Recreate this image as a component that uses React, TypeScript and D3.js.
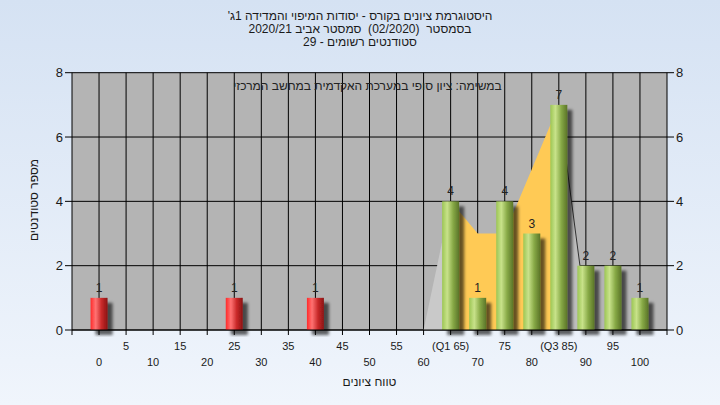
import React from 'react';
import * as d3 from 'd3';

const W = 720;
const H = 405;

const categories = ['0','5','10','15','20','25','30','35','40','45','50','55','60','65','70','75','80','85','90','95','100'];
const tickLabels = ['0','5','10','15','20','25','30','35','40','45','50','55','60','(Q1 65)','70','75','80','(Q3 85)','90','95','100'];
const counts = [1,0,0,0,0,1,0,0,1,0,0,0,0,4,1,4,3,7,2,2,1];
const areaCats = ['60','65','70','75','80','85','90'];
const areaValues = [0,4,3,3,5,7,0.6];
const q1Cat = '65';
const q3Cat = '85';
const passMark = 55;
const yTicks = [0,2,4,6,8];

const titleLines = [
  "'היסטוגרמת ציונים בקורס - יסודות המיפוי והמדידה 1ג",
  'בסמסטר  (02/2020)  סמסטר אביב 2020/21',
  'סטודנטים רשומים - 29',
];
const yTitle = 'מספר סטודנטים';
const xTitle = 'טווח ציונים';
const note = 'במשימה: ציון סופי במערכת האקדמית במחשב המרכזי';

const FONT = "'Liberation Sans', Arial, sans-serif";

export default function App() {
  const left = 72, right = 667, top = 72.7, bottom = 330;
  const x = d3.scalePoint<string>().domain(categories).range([left, right]).padding(1);
  const y = d3.scaleLinear().domain([0, 8]).range([bottom, top]);
  const bw = 17;

  const pts = areaCats.map((c, i) => ({ c, v: areaValues[i] }));
  const iq1 = areaCats.indexOf(q1Cat);
  const iq3 = areaCats.indexOf(q3Cat);
  const leftPart = pts.slice(0, iq1 + 1);
  const midPart = pts.slice(iq1, iq3 + 1);
  const rightPart = pts.slice(iq3);
  const area = d3.area<{ c: string; v: number }>()
    .x(d => x(d.c) as number)
    .y0(y(0))
    .y1(d => y(d.v));
  const line = d3.line<{ c: string; v: number }>()
    .x(d => x(d.c) as number)
    .y(d => y(d.v));

  return (
    <svg width={W} height={H} style={{ position: 'absolute', left: 0, top: 0 }} fontFamily={FONT}>
      <defs>
        <linearGradient id="bg" x1="0" y1="0" x2="0" y2="1">
          <stop offset="0" stopColor="#D5E2F3" />
          <stop offset="1" stopColor="#F0F5FC" />
        </linearGradient>
        <linearGradient id="gRed" x1="0" y1="0" x2="1" y2="0">
          <stop offset="0" stopColor="#FF2A2A" />
          <stop offset="0.3" stopColor="#FF7272" />
          <stop offset="0.65" stopColor="#C82828" />
          <stop offset="1" stopColor="#8A1515" />
        </linearGradient>
        <linearGradient id="gGreen" x1="0" y1="0" x2="1" y2="0">
          <stop offset="0" stopColor="#9CC654" />
          <stop offset="0.3" stopColor="#C8E28A" />
          <stop offset="0.65" stopColor="#86A845" />
          <stop offset="1" stopColor="#5A7428" />
        </linearGradient>
        <filter id="shadow" x="-50%" y="-20%" width="200%" height="140%">
          <feDropShadow dx="5" dy="5" stdDeviation="1.8" floodColor="#000" floodOpacity="0.6" />
        </filter>
      </defs>
      <rect x={0} y={0} width={W} height={H} fill="url(#bg)" />

      {/* title */}
      {titleLines.map((t, i) => (
        <text key={i} x={360} y={20 + i * 13} textAnchor="middle" fontSize={12} fill="#1a1a1a" style={{ whiteSpace: 'pre' }}>{t}</text>
      ))}

      {/* plot area */}
      <rect x={left} y={top} width={right - left} height={bottom - top} fill="#B4B4B4" />

      {/* grid */}
      {yTicks.map(t => (
        <line key={'h' + t} x1={left} x2={right} y1={y(t)} y2={y(t)} stroke="#000" strokeWidth={1} />
      ))}
      {categories.map(c => (
        <line key={'v' + c} x1={x(c)} x2={x(c)} y1={top} y2={bottom} stroke="#000" strokeWidth={1} />
      ))}

      {/* area */}
      <path d={area(leftPart) || ''} fill="#C9C9C9" />
      <path d={area(rightPart) || ''} fill="#BDBDBD" />
      <path d={area(midPart) || ''} fill="#FFCA55" />
      <path d={line(rightPart) || ''} fill="none" stroke="#333" strokeWidth={1} />

      {/* note */}
      <text x={(left + right) / 2 - 2} y={90} textAnchor="middle" fontSize={12} fill="#222">{note}</text>

      {/* bars */}
      {categories.map((c, i) => counts[i] > 0 ? (
        <rect key={'b' + c} x={(x(c) as number) - bw / 2} y={y(counts[i])} width={bw} height={y(0) - y(counts[i])}
          fill={+c < passMark ? 'url(#gRed)' : 'url(#gGreen)'} filter="url(#shadow)" />
      ) : null)}
      {categories.map((c, i) => counts[i] > 0 ? (
        <text key={'l' + c} x={x(c)} y={y(counts[i]) - 6} textAnchor="middle" fontSize={12} fill="#222">{counts[i]}</text>
      ) : null)}

      {/* axes */}
      <line x1={left} x2={left} y1={top} y2={bottom} stroke="#000" />
      <line x1={right} x2={right} y1={top} y2={bottom} stroke="#000" />
      <line x1={left} x2={right} y1={bottom} y2={bottom} stroke="#000" />
      {yTicks.map(t => (
        <g key={'yt' + t}>
          <line x1={left - 7} x2={left} y1={y(t)} y2={y(t)} stroke="#000" />
          <text x={left - 9} y={y(t) + 4.5} textAnchor="end" fontSize={13} fill="#1a1a1a">{t}</text>
          <line x1={right} x2={right + 7} y1={y(t)} y2={y(t)} stroke="#000" />
          <text x={right + 9} y={y(t) + 4.5} textAnchor="start" fontSize={13} fill="#1a1a1a">{t}</text>
        </g>
      ))}
      <line x1={left} x2={left} y1={bottom} y2={bottom + 5} stroke="#000" />
      {categories.map((c, i) => (
        <g key={'xt' + c}>
          <line x1={x(c)} x2={x(c)} y1={bottom} y2={bottom + 5} stroke="#000" />
          <text x={x(c)} y={i % 2 === 1 ? 349.5 : 366} textAnchor="middle" fontSize={11} fill="#1a1a1a">{tickLabels[i]}</text>
        </g>
      ))}
      <line x1={right} x2={right} y1={bottom} y2={bottom + 5} stroke="#000" />

      <text x={(left + right) / 2} y={385.5} textAnchor="middle" fontSize={12} fill="#1a1a1a">{xTitle}</text>
      <text transform={`translate(38,200) rotate(-90)`} textAnchor="middle" fontSize={12} fill="#1a1a1a">{yTitle}</text>
    </svg>
  );
}
